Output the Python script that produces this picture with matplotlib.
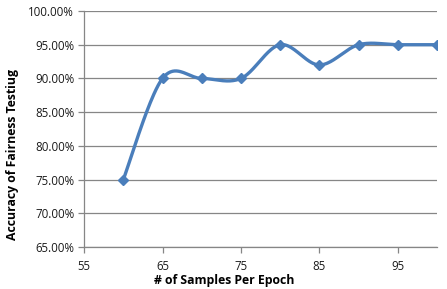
import numpy as np
import matplotlib
matplotlib.use('Agg')
import matplotlib.pyplot as plt
from matplotlib.ticker import FuncFormatter

# data
samples = [60, 65, 70, 75, 80, 85, 90, 95, 100]
accuracy = [0.75, 0.90, 0.90, 0.90, 0.95, 0.92, 0.95, 0.95, 0.95]
x_ticks = [55, 65, 75, 85, 95]
y_ticks = [0.65, 0.70, 0.75, 0.80, 0.85, 0.90, 0.95, 1.00]


def smooth(xs, ys, n=40):
    # Excel-like smoothed line: cubic bezier with catmull-rom control points
    xs = np.asarray(xs, float)
    ys = np.asarray(ys, float)
    px = np.concatenate([[xs[0]], xs, [xs[-1]]])
    py = np.concatenate([[ys[0]], ys, [ys[-1]]])
    out_x, out_y = [], []
    t = np.linspace(0, 1, n)
    for i in range(1, len(px) - 2):
        p0 = np.array([px[i], py[i]])
        p3 = np.array([px[i + 1], py[i + 1]])
        c1 = p0 + (np.array([px[i + 1], py[i + 1]]) - np.array([px[i - 1], py[i - 1]])) / 6
        c2 = p3 - (np.array([px[i + 2], py[i + 2]]) - np.array([px[i], py[i]])) / 6
        b = ((1 - t) ** 3)[:, None] * p0 + (3 * (1 - t) ** 2 * t)[:, None] * c1 \
            + (3 * (1 - t) * t ** 2)[:, None] * c2 + (t ** 3)[:, None] * p3
        out_x.extend(b[:, 0])
        out_y.extend(b[:, 1])
    return out_x, out_y


plt.rcParams['font.family'] = ['Open Sans', 'DejaVu Sans']

fig = plt.figure(figsize=(4.47, 2.89), dpi=100)
ax = fig.add_axes([0.188, 0.145, 0.79, 0.817])

grid_c = '#868686'
line_c = '#4A7EBB'

sx, sy = smooth(samples, accuracy)
ax.plot(sx, sy, color=line_c, linewidth=2.4, solid_capstyle='round', zorder=3)
ax.plot(samples, accuracy, linestyle='none', marker='D', markersize=5.5,
        color=line_c, zorder=4)

ax.set_xlim(55, 100)
ax.set_ylim(0.65, 1.00)
ax.set_xticks(x_ticks)
ax.set_yticks(y_ticks)
ax.yaxis.set_major_formatter(FuncFormatter(lambda v, p: f'{v * 100:.2f}%'))

ax.grid(axis='y', color=grid_c, linewidth=0.9)
ax.set_axisbelow(True)
for s in ['top', 'right']:
    ax.spines[s].set_visible(False)
for s in ['left', 'bottom']:
    ax.spines[s].set_color(grid_c)
    ax.spines[s].set_linewidth(0.9)

ax.tick_params(axis='both', colors=grid_c, length=4, width=0.9,
               labelcolor='#1a1a1a', labelsize=8.3)
ax.tick_params(axis='x', pad=5)
ax.tick_params(axis='y', pad=3)

ax.set_xlabel('# of Samples Per Epoch', fontsize=8.8, fontweight='bold')
ax.set_ylabel('Accuracy of Fairness Testiug', fontsize=8.8, fontweight='bold')
ax.xaxis.set_label_coords(0.397, -0.112)
ax.yaxis.set_label_coords(-0.184, 0.394)

fig.savefig('out.png', dpi=100)
